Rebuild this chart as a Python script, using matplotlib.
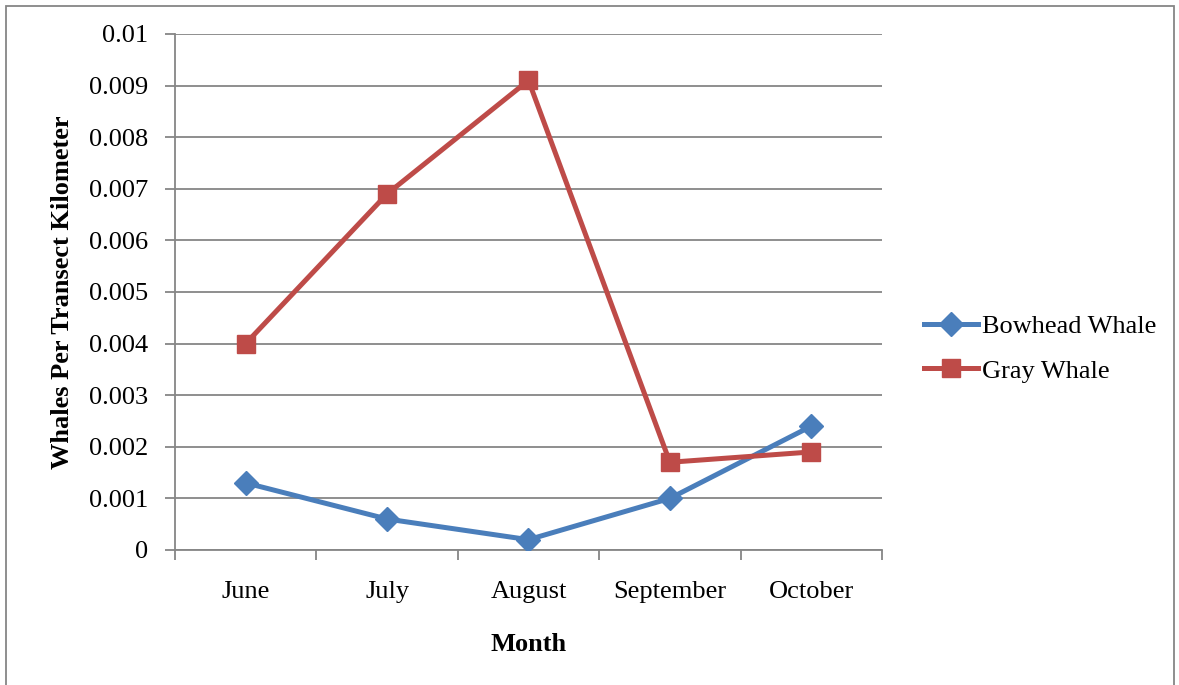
import matplotlib.pyplot as plt
from matplotlib.patches import Rectangle

months = ["June", "July", "August", "September", "October"]
bowhead = [0.0013, 0.0006, 0.0002, 0.0010, 0.0024]
gray = [0.0040, 0.0069, 0.0091, 0.0017, 0.0019]
yticks = [0, 0.001, 0.002, 0.003, 0.004, 0.005, 0.006, 0.007, 0.008, 0.009, 0.01]
ytick_labels = ["0", "0.001", "0.002", "0.003", "0.004", "0.005", "0.006",
                "0.007", "0.008", "0.009", "0.01"]

plt.rcParams["font.family"] = ["Liberation Serif", "DejaVu Serif"]
fs = 19

fig = plt.figure(figsize=(11.79, 6.85), dpi=100)
ax = fig.add_axes([0.1484, 0.1971, 0.5997, 0.7533])

grid_col = "#868686"
x = list(range(len(months)))
ax.plot(x, bowhead, color="#4A7EBB", lw=3.6, marker="D", ms=12.5,
        label="Bowhead Whale", zorder=3)
ax.plot(x, gray, color="#BE4B48", lw=3.6, marker="s", ms=13.5,
        label="Gray Whale", zorder=3)

ax.set_xlim(-0.5, len(months) - 0.5)
ax.set_ylim(0, 0.01)
ax.set_yticks(yticks)
ax.set_yticklabels(ytick_labels)
ax.set_xticks(x)
ax.set_xticklabels(months)
ax.set_xticks([i - 0.5 for i in range(len(months) + 1)], minor=True)
ax.tick_params(axis="x", which="major", length=0, pad=22, labelsize=fs)
ax.tick_params(axis="x", which="minor", length=7, width=1.3, color=grid_col)
ax.tick_params(axis="y", length=7, width=1.3, color=grid_col, pad=12, labelsize=fs)
ax.yaxis.grid(True, color=grid_col, lw=1.3)
ax.set_axisbelow(True)
for side in ("top", "right"):
    ax.spines[side].set_visible(False)
for side in ("left", "bottom"):
    ax.spines[side].set_color(grid_col)
    ax.spines[side].set_linewidth(1.3)

ax.set_xlabel("Month", fontsize=fs, fontweight="bold", labelpad=22)
ax.set_ylabel("Whales Per Transect Kilometer", fontsize=fs, fontweight="bold",
              labelpad=11)

ax.legend(loc="center left", bbox_to_anchor=(1.045, 0.39), frameon=False,
          fontsize=fs, handlelength=2.05, handletextpad=0.15, labelspacing=0.78,
          borderaxespad=0)

# outer chart border
fig.patches.append(Rectangle((6 / 1179, -0.1), 1168 / 1179, 1.1 - 6 / 685,
                             transform=fig.transFigure, fill=False,
                             edgecolor=grid_col, lw=1.3))

fig.savefig("out.png", dpi=100)
